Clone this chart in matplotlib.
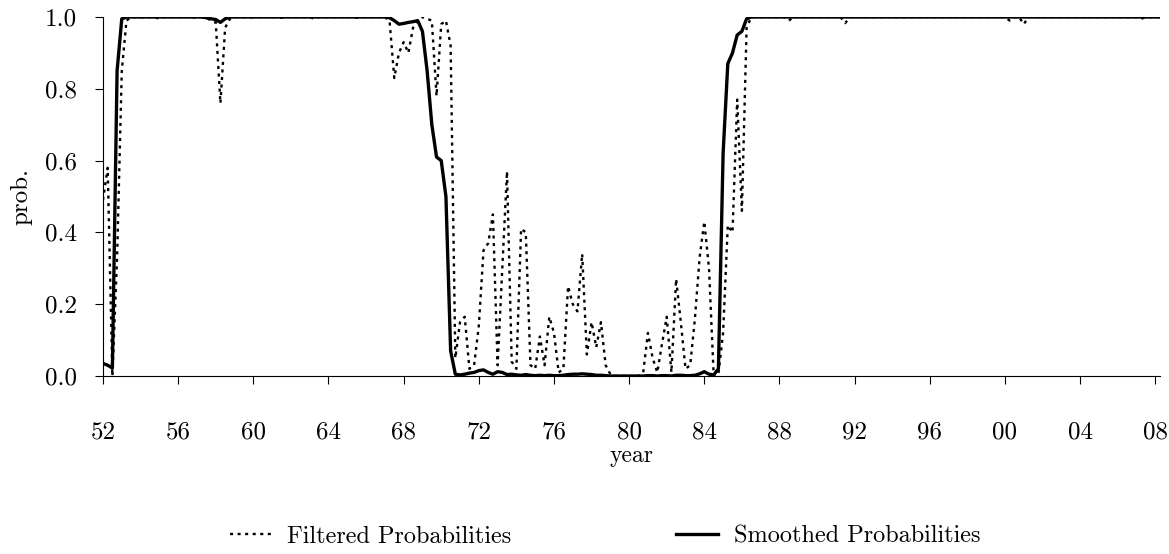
import numpy as np
import matplotlib
matplotlib.use("Agg")
import matplotlib.pyplot as plt

plt.rcParams['font.family'] = ['cmr10', 'DejaVu Serif']
plt.rcParams['axes.formatter.use_mathtext'] = True

# quarterly probabilities, 1952Q1 .. 2008Q2 (one row per year)
filtered = [
    0.49, 0.58, 0.00, 0.33,   # 52
    0.85, 0.99, 1.00, 1.00,   # 53
    1.00, 0.998, 1.00, 1.00,  # 54
    0.995, 1.00, 1.00, 1.00,  # 55
    1.00, 1.00, 1.00, 0.998,  # 56
    1.00, 1.00, 0.998, 0.99,  # 57
    0.985, 0.76, 0.97, 0.995, # 58
    1.00, 1.00, 1.00, 0.998,  # 59
    1.00, 1.00, 1.00, 1.00,   # 60
    1.00, 1.00, 0.998, 1.00,  # 61
    1.00, 1.00, 1.00, 1.00,   # 62
    1.00, 0.995, 1.00, 1.00,  # 63
    1.00, 1.00, 1.00, 1.00,   # 64
    1.00, 1.00, 0.998, 1.00,  # 65
    1.00, 1.00, 1.00, 1.00,   # 66
    1.00, 0.99, 0.83, 0.90,   # 67
    0.93, 0.90, 0.97, 0.99,   # 68
    1.00, 0.995, 0.99, 0.78,  # 69
    0.98, 0.99, 0.92, 0.05,   # 70
    0.15, 0.165, 0.02, 0.03,  # 71
    0.14, 0.35, 0.37, 0.45,   # 72
    0.03, 0.30, 0.57, 0.04,   # 73
    0.02, 0.41, 0.40, 0.03,   # 74
    0.02, 0.11, 0.03, 0.165,  # 75
    0.12, 0.01, 0.02, 0.25,   # 76
    0.20, 0.18, 0.34, 0.06,   # 77
    0.15, 0.08, 0.15, 0.03,   # 78
    0.005, 0.00, 0.00, 0.00,  # 79
    0.00, 0.00, 0.00, 0.01,   # 80
    0.12, 0.05, 0.01, 0.09,   # 81
    0.165, 0.01, 0.27, 0.15,  # 82
    0.02, 0.03, 0.16, 0.33,   # 83
    0.43, 0.30, 0.00, 0.005,  # 84
    0.12, 0.42, 0.40, 0.77,   # 85
    0.46, 0.97, 1.00, 1.00,   # 86
    1.00, 1.00, 1.00, 1.00,   # 87
    1.00, 1.00, 0.99, 1.00,   # 88
    1.00, 1.00, 1.00, 1.00,   # 89
    1.00, 1.00, 1.00, 1.00,   # 90
    1.00, 1.00, 0.983, 1.00,  # 91
    1.00, 1.00, 1.00, 1.00,   # 92
    1.00, 1.00, 1.00, 1.00,   # 93
    1.00, 1.00, 1.00, 1.00,   # 94
    1.00, 1.00, 1.00, 1.00,   # 95
    1.00, 1.00, 1.00, 1.00,   # 96
    1.00, 1.00, 1.00, 1.00,   # 97
    1.00, 1.00, 1.00, 1.00,   # 98
    1.00, 1.00, 1.00, 1.00,   # 99
    1.00, 0.99, 1.00, 1.00,   # 00
    0.98, 1.00, 1.00, 1.00,   # 01
    1.00, 1.00, 1.00, 1.00,   # 02
    1.00, 1.00, 1.00, 1.00,   # 03
    1.00, 1.00, 1.00, 1.00,   # 04
    1.00, 1.00, 1.00, 1.00,   # 05
    1.00, 1.00, 1.00, 1.00,   # 06
    1.00, 0.995, 1.00, 1.00,  # 07
    1.00, 1.00,               # 08
]

smoothed = [
    0.035, 0.03, 0.022, 0.85, # 52
    0.995, 1.00, 1.00, 1.00,  # 53
    1.00, 1.00, 1.00, 1.00,   # 54
    1.00, 1.00, 1.00, 1.00,   # 55
    1.00, 1.00, 1.00, 1.00,   # 56
    1.00, 1.00, 0.998, 0.995, # 57
    0.993, 0.985, 0.995, 1.00,# 58
    1.00, 1.00, 1.00, 1.00,   # 59
    1.00, 1.00, 1.00, 1.00,   # 60
    1.00, 1.00, 1.00, 1.00,   # 61
    1.00, 1.00, 1.00, 1.00,   # 62
    1.00, 1.00, 1.00, 1.00,   # 63
    1.00, 1.00, 1.00, 1.00,   # 64
    1.00, 1.00, 1.00, 1.00,   # 65
    1.00, 1.00, 1.00, 1.00,   # 66
    1.00, 0.998, 0.99, 0.98,  # 67
    0.982, 0.985, 0.987, 0.99,# 68
    0.96, 0.85, 0.70, 0.61,   # 69
    0.60, 0.50, 0.07, 0.005,  # 70
    0.003, 0.005, 0.008, 0.01,# 71
    0.015, 0.017, 0.01, 0.005,# 72
    0.012, 0.01, 0.004, 0.005,# 73
    0.003, 0.002, 0.004, 0.002, # 74
    0.001, 0.002, 0.001, 0.002, # 75
    0.001, 0.001, 0.002, 0.004, # 76
    0.005, 0.005, 0.006, 0.005, # 77
    0.004, 0.002, 0.002, 0.001, # 78
    0.00, 0.00, 0.00, 0.00,   # 79
    0.00, 0.00, 0.00, 0.00,   # 80
    0.001, 0.001, 0.00, 0.001,# 81
    0.001, 0.00, 0.002, 0.002,# 82
    0.001, 0.001, 0.002, 0.006, # 83
    0.012, 0.005, 0.003, 0.02,# 84
    0.62, 0.87, 0.90, 0.95,   # 85
    0.96, 0.995, 1.00, 1.00,  # 86
    1.00, 1.00, 1.00, 1.00,   # 87
    1.00, 1.00, 1.00, 1.00,   # 88
    1.00, 1.00, 1.00, 1.00,   # 89
    1.00, 1.00, 1.00, 1.00,   # 90
    1.00, 1.00, 1.00, 1.00,   # 91
    1.00, 1.00, 1.00, 1.00,   # 92
    1.00, 1.00, 1.00, 1.00,   # 93
    1.00, 1.00, 1.00, 1.00,   # 94
    1.00, 1.00, 1.00, 1.00,   # 95
    1.00, 1.00, 1.00, 1.00,   # 96
    1.00, 1.00, 1.00, 1.00,   # 97
    1.00, 1.00, 1.00, 1.00,   # 98
    1.00, 1.00, 1.00, 1.00,   # 99
    1.00, 1.00, 1.00, 1.00,   # 00
    1.00, 1.00, 1.00, 1.00,   # 01
    1.00, 1.00, 1.00, 1.00,   # 02
    1.00, 1.00, 1.00, 1.00,   # 03
    1.00, 1.00, 1.00, 1.00,   # 04
    1.00, 1.00, 1.00, 1.00,   # 05
    1.00, 1.00, 1.00, 1.00,   # 06
    1.00, 1.00, 1.00, 1.00,   # 07
    1.00, 1.00,               # 08
]

start_year = 1952
tick_years = list(range(1952, 2009, 4))
y_ticks = [0.0, 0.2, 0.4, 0.6, 0.8, 1.0]

t = start_year + np.arange(len(smoothed)) / 4.0

fig = plt.figure(figsize=(11.69, 5.54), dpi=100)
ax = fig.add_axes([0.0881, 0.3213, 0.9042, 0.648])

ax.plot(t, filtered, color='black', linewidth=1.7, linestyle=(0, (1.3, 1.9)),
        label='Filtered Probabilities')
ax.plot(t, smoothed, color='black', linewidth=2.4, label='Smoothed Probabilities')

ax.set_xlim(t[0], t[-1])
ax.set_ylim(0, 1.0)
ax.set_xticks(tick_years)
ax.set_xticklabels(['%02d' % (y % 100) for y in tick_years])
ax.set_yticks(y_ticks)
ax.set_yticklabels(['%.1f' % v for v in y_ticks])

ax.spines['top'].set_visible(False)
ax.spines['right'].set_visible(False)
ax.spines['left'].set_linewidth(0.8)
ax.spines['bottom'].set_linewidth(0.8)
ax.tick_params(axis='x', direction='out', length=6, width=0.8, pad=27, labelsize=18)
ax.tick_params(axis='y', direction='out', length=6, width=0.8, pad=13, labelsize=18)

ax.set_xlabel('year', fontsize=17, labelpad=1)
ax.set_ylabel('prob.', fontsize=18, labelpad=9)

fig.legend(loc='center', bbox_to_anchor=(0.5175, 0.031), ncol=2, frameon=False,
           fontsize=17.5, handlelength=1.7, columnspacing=6.8, handletextpad=0.65)

fig.savefig('out.png', dpi=100)
